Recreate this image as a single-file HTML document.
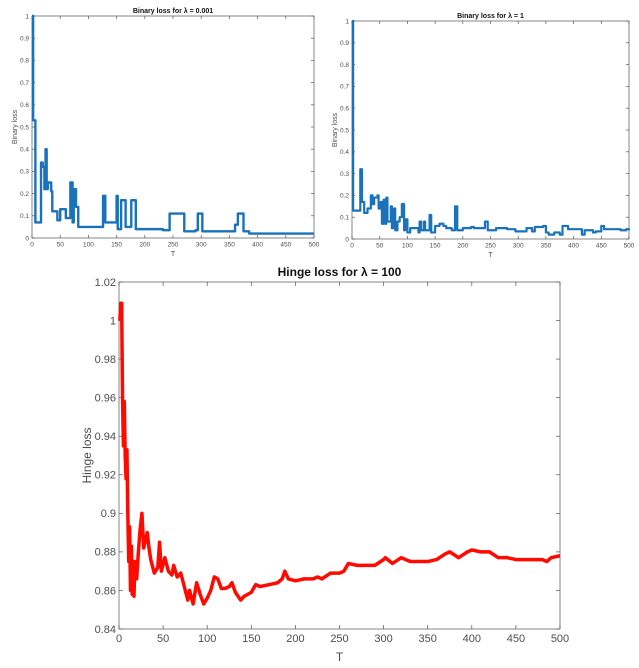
<!DOCTYPE html>
<html><head><meta charset="utf-8"><style>
html,body{margin:0;padding:0;background:#fff;}
svg{display:block;font-family:"Liberation Sans",Arial,sans-serif;}
</style></head><body>
<svg id="fig" width="639" height="668" viewBox="0 0 639 668" xmlns="http://www.w3.org/2000/svg"></svg>
<script>
// ---- Data: top-left, binary loss lambda=0.001 (step) ----
const tA = [0,2,6,16,19,22,24,26,28,34,36,45,50,60,68,72,74,78,82,126,130,150,152,158,166,176,184,232,244,270,290,294,302,360,365,375,385,500];
const yA = [1,0.53,0.07,0.34,0.32,0.22,0.4,0.22,0.25,0.21,0.12,0.08,0.13,0.09,0.25,0.07,0.22,0.14,0.05,0.19,0.07,0.19,0.04,0.17,0.05,0.17,0.04,0.035,0.11,0.03,0.035,0.11,0.03,0.06,0.11,0.03,0.02,0.02];
// ---- Data: top-right, binary loss lambda=1 (step) ----
const tB = [0,2,15,18,22,28,34,37,40,46,48,52,54,57,60,62,64,70,72,76,78,82,86,90,94,96,100,105,115,120,122,125,130,132,140,143,150,158,165,170,180,186,190,200,215,220,240,245,260,280,295,315,325,330,345,350,355,365,375,380,390,410,415,420,435,440,450,455,470,485,495,500];
const yB = [1,0.13,0.32,0.17,0.12,0.14,0.2,0.16,0.19,0.2,0.14,0.17,0.07,0.18,0.07,0.19,0.08,0.15,0.05,0.14,0.04,0.08,0.1,0.16,0.04,0.09,0.03,0.05,0.05,0.03,0.08,0.04,0.08,0.04,0.11,0.03,0.06,0.07,0.06,0.05,0.04,0.15,0.04,0.05,0.055,0.05,0.08,0.04,0.05,0.045,0.035,0.05,0.035,0.055,0.06,0.03,0.02,0.03,0.02,0.06,0.045,0.045,0.02,0.04,0.03,0.035,0.06,0.045,0.045,0.04,0.045,0.04];
// ---- Data: bottom, hinge loss lambda=100 ----
const tC = [1,2,3,4,5,6,7,8,9,10,11,12,13,14,15,16,17,18,20,22,24,26,28,30,32,34,36,40,44,46,48,52,56,60,62,66,70,74,78,80,84,88,92,96,100,104,108,112,116,120,125,128,132,138,142,150,155,160,170,180,185,188,192,200,210,220,225,230,240,250,255,260,270,280,290,300,302,310,320,330,340,350,360,370,375,385,395,400,410,420,430,440,450,460,470,480,485,490,500];
const yC = [1.0,1.009,1.009,0.96,0.935,0.958,0.93,0.918,0.933,0.9,0.875,0.893,0.86,0.883,0.858,0.875,0.857,0.875,0.866,0.88,0.892,0.9,0.882,0.886,0.89,0.882,0.876,0.869,0.872,0.885,0.87,0.877,0.87,0.868,0.873,0.867,0.869,0.862,0.855,0.86,0.853,0.864,0.858,0.853,0.856,0.86,0.867,0.866,0.861,0.861,0.862,0.864,0.859,0.855,0.857,0.859,0.863,0.862,0.863,0.864,0.866,0.87,0.866,0.865,0.866,0.866,0.867,0.866,0.869,0.869,0.87,0.874,0.873,0.873,0.873,0.876,0.877,0.874,0.877,0.875,0.875,0.875,0.876,0.879,0.88,0.877,0.88,0.881,0.88,0.88,0.877,0.877,0.876,0.876,0.876,0.876,0.875,0.877,0.878];
const xTicks = [0,50,100,150,200,250,300,350,400,450,500];
const yTicksBin = [0,0.1,0.2,0.3,0.4,0.5,0.6,0.7,0.8,0.9,1];
const yTickLabelsBin = ['0','0.1','0.2','0.3','0.4','0.5','0.6','0.7','0.8','0.9','1'];
const yTicksHinge = [0.84,0.86,0.88,0.9,0.92,0.94,0.96,0.98,1,1.02];
const yTickLabelsHinge = ['0.84','0.86','0.88','0.9','0.92','0.94','0.96','0.98','1','1.02'];

const NS='http://www.w3.org/2000/svg';
const fig=document.getElementById('fig');
function mk(tag,attrs,parent){const e=document.createElementNS(NS,tag);for(const k in attrs)e.setAttribute(k,attrs[k]);(parent||fig).appendChild(e);return e;}

function panel(o){
  const g=mk('g',{});
  
  
  const sx=v=>o.x0+(v-o.xmin)/(o.xmax-o.xmin)*(o.x1-o.x0);
  const sy=v=>o.y0-(v-o.ymin)/(o.ymax-o.ymin)*(o.y0-o.y1);
  const fr=mk('rect',{x:o.x0,y:o.y1,width:o.x1-o.x0,height:o.y0-o.y1,fill:'none',stroke:'#555',"stroke-width":0.7},g);
  
  
  xTicks.forEach(t=>{
    const x=sx(t);
    mk('line',{x1:x,x2:x,y1:o.y0,y2:o.y0-o.tl,stroke:'#555','stroke-width':0.7},g);
    mk('line',{x1:x,x2:x,y1:o.y1,y2:o.y1+o.tl,stroke:'#555','stroke-width':0.7},g);
    const tx=mk('text',{x:x,y:o.y0+o.fs+2,'font-size':o.fs,'text-anchor':'middle',fill:'#4d4d4d'},g);
    tx.textContent=t;
    
    
  });
  o.yt.forEach((t,i)=>{
    const y=sy(t);
    mk('line',{x1:o.x0,x2:o.x0+o.tl,y1:y,y2:y,stroke:'#555','stroke-width':0.7},g);
    mk('line',{x1:o.x1,x2:o.x1-o.tl,y1:y,y2:y,stroke:'#555','stroke-width':0.7},g);
    const tx=mk('text',{x:o.x0-3,y:y+o.fs*0.35,'font-size':o.fs,'text-anchor':'end',fill:'#4d4d4d'},g);
    tx.textContent=o.ytl[i];
    
    
  });
  let d='';
  for(let i=0;i<o.t.length;i++){
    const x=sx(o.t[i]).toFixed(2),y=sy(o.v[i]).toFixed(2);
    if(i===0)d+='M'+x+' '+y;
    else if(o.step)d+='H'+x+'V'+y;
    else d+='L'+x+' '+y;
  }
  const p=mk('path',{d:d,fill:'none',stroke:o.color,'stroke-width':o.lw,'stroke-linejoin':'round'},g);
  
  
  const ti=mk('text',{x:(o.x0+o.x1)/2,y:o.ty,'font-size':o.tfs,'font-weight':'bold','text-anchor':'middle',fill:'#111'},g);
  ti.textContent=o.title;
  
  
  const xl=mk('text',{x:(o.x0+o.x1)/2,y:o.xly,'font-size':o.lfs,'text-anchor':'middle',fill:'#4d4d4d'},g);
  xl.textContent='T';
  
  
  const yl=mk('text',{x:o.ylx,y:(o.y0+o.y1)/2,'font-size':o.lfs,'text-anchor':'middle',fill:'#4d4d4d',transform:'rotate(-90 '+o.ylx+' '+(o.y0+o.y1)/2+')'},g);
  yl.textContent=o.ylabel;
  
  
}
panel({name:'binary-loss-lambda-0.001',x0:32,x1:314,y0:238,y1:16,xmin:0,xmax:500,ymin:0,ymax:1,yt:yTicksBin,ytl:yTickLabelsBin,t:tA,v:yA,step:true,color:'#1a72bb',lw:2.4,fs:6.5,tl:3,title:'Binary loss for \u03bb = 0.001',ty:13,tfs:7,xly:256,lfs:7,ylx:17,ylabel:'Binary loss'});
panel({name:'binary-loss-lambda-1',x0:352,x1:629,y0:239,y1:21,xmin:0,xmax:500,ymin:0,ymax:1,yt:yTicksBin,ytl:yTickLabelsBin,t:tB,v:yB,step:true,color:'#1a72bb',lw:2.2,fs:6.5,tl:3,title:'Binary loss for \u03bb = 1',ty:18,tfs:7,xly:257,lfs:7,ylx:337,ylabel:'Binary loss'});
panel({name:'hinge-loss-lambda-100',x0:119,x1:560,y0:629,y1:282,xmin:0,xmax:500,ymin:0.84,ymax:1.02,yt:yTicksHinge,ytl:yTickLabelsHinge,t:tC,v:yC,step:false,color:'#ff0a00',lw:3.5,fs:11,tl:4,title:'Hinge loss for \u03bb = 100',ty:276,tfs:12,xly:661,lfs:12,ylx:91,ylabel:'Hinge loss'});
</script>
</body></html>
